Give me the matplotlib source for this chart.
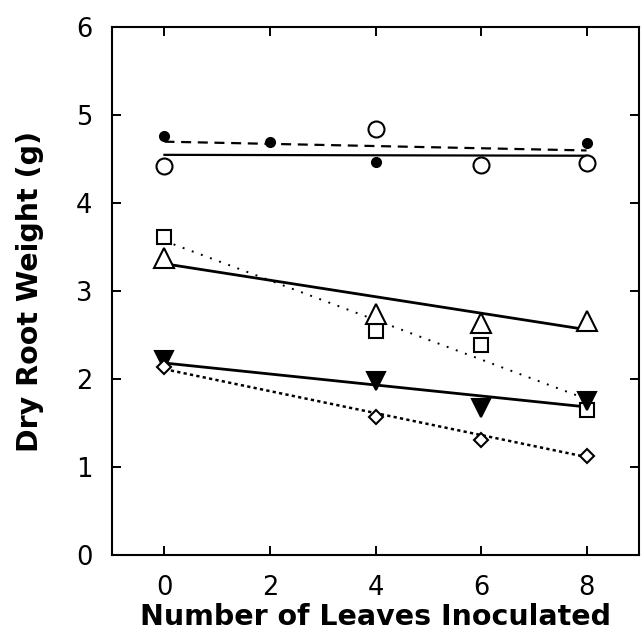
import matplotlib
matplotlib.use("Agg")
import matplotlib.pyplot as plt

# Data
x_filled_circle = [0, 2, 4, 8]
y_filled_circle = [4.76, 4.70, 4.47, 4.68]
x_open_circle = [0, 4, 6, 8]
y_open_circle = [4.42, 4.84, 4.43, 4.46]
x_square = [0, 4, 6, 8]
y_square = [3.61, 2.55, 2.39, 1.65]
x_tri_up = [0, 4, 6, 8]
y_tri_up = [3.38, 2.74, 2.64, 2.66]
x_tri_down = [0, 4, 6, 8]
y_tri_down = [2.22, 1.98, 1.67, 1.75]
x_diamond = [0, 4, 6, 8]
y_diamond = [2.14, 1.57, 1.30, 1.12]

# Fitted regression lines (endpoints)
fit_x = [0, 8]
fit_filled_circle = [4.70, 4.60]
fit_open_circle = [4.55, 4.54]
fit_square = [3.57, 1.77]
fit_tri_up = [3.31, 2.56]
fit_tri_down = [2.18, 1.68]
fit_diamond = [2.11, 1.11]

x_ticks = [0, 2, 4, 6, 8]
y_ticks = [0, 1, 2, 3, 4, 5, 6]

fig = plt.figure(figsize=(6.42, 6.33), dpi=100)
ax = fig.add_axes([0.174, 0.124, 0.8218, 0.8326])

# fit lines
ax.plot(fit_x, fit_filled_circle, color='black', lw=1.6, dashes=(4.5, 3))
ax.plot(fit_x, fit_open_circle, color='black', lw=1.6, ls='-')
ax.plot(fit_x, fit_square, color='black', lw=1.4, ls=(0, (1, 4)))
ax.plot(fit_x, fit_tri_up, color='black', lw=2.0, ls='-')
ax.plot(fit_x, fit_tri_down, color='black', lw=2.0, ls='-')
ax.plot(fit_x, fit_diamond, color='black', lw=1.8, ls=(0, (1.3, 1.3)))

mk = dict(ls='none', mec='black', mew=1.5, zorder=3)
ax.plot(x_filled_circle, y_filled_circle, marker='o', ms=6.5, mfc='black', **mk)
ax.plot(x_open_circle, y_open_circle, marker='o', ms=11.5, mfc='white', **mk)
ax.plot(x_square, y_square, marker='s', ms=10.5, mfc='white', **mk)
ax.plot(x_tri_up, y_tri_up, marker='^', ms=14.5, mfc='white', **mk)
ax.plot(x_tri_down, y_tri_down, marker='v', ms=13.5, mfc='black', **mk)
ax.plot(x_diamond, y_diamond, marker='D', ms=6.8, mfc='white', **mk)

ax.set_xlim(-1, 9)
ax.set_ylim(0, 6)
ax.set_xticks(x_ticks)
ax.set_yticks(y_ticks)
ax.tick_params(direction='in', length=6.3, width=1.4, top=True, right=True,
               labelsize=18.5)
ax.tick_params(axis='x', pad=15)
ax.tick_params(axis='y', pad=14)
for lab in ax.get_xticklabels() + ax.get_yticklabels():
    lab.set_fontfamily('DejaVu Sans')
for s in ax.spines.values():
    s.set_linewidth(1.5)

ax.set_xlabel('Number of Leaves Inoculated', fontsize=20.5, fontweight='bold',
              family='DejaVu Sans', labelpad=1)
ax.set_ylabel('Dry Root Weight (g)', fontsize=20.5, fontweight='bold',
              family='DejaVu Sans', labelpad=23)

fig.savefig('out.png', dpi=100)
